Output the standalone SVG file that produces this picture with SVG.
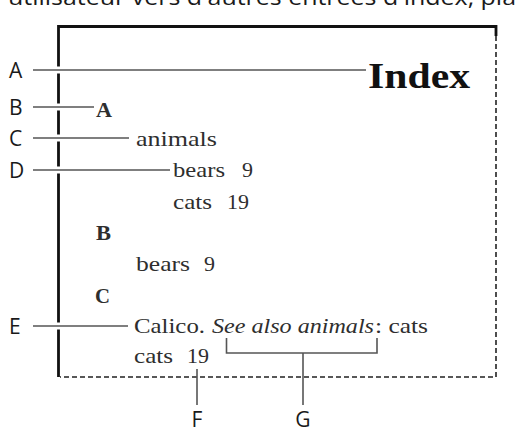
<svg xmlns="http://www.w3.org/2000/svg" width="531" height="433" viewBox="0 0 531 433">
<style>
.lbl{font-family:"Open Sans","Liberation Sans",sans-serif;font-size:21px;fill:#1a1a1a}
.ser{font-family:"Liberation Serif","Times New Roman",serif;font-size:22px;fill:#2e2e2e}
.hd{font-family:"Liberation Serif","Times New Roman",serif;font-weight:bold;fill:#111}
.ln{stroke:#555;stroke-width:1.6;fill:none}
.gap{stroke:#fff;stroke-width:7}
.dash{stroke:#222;stroke-width:1.6;stroke-dasharray:5 3;fill:none}
</style>
<rect width="531" height="433" fill="#fff"/>
<text class="lbl" x="8" y="5" font-size="22" textLength="508" lengthAdjust="spacingAndGlyphs">utilisateur vers d'autres entrées d'index, pla</text>
<g id="frame">
<path d="M58.5 377 V26.5 H496 V36" fill="none" stroke="#111" stroke-width="2.8"/>
<path class="dash" d="M496 36 V377 H60"/>
</g>
<g id="connectors">
<line class="gap" x1="54" y1="70" x2="63" y2="70"/>
<line class="gap" x1="54" y1="107" x2="63" y2="107"/>
<line class="gap" x1="54" y1="138" x2="63" y2="138"/>
<line class="gap" x1="54" y1="170" x2="63" y2="170"/>
<line class="gap" x1="54" y1="326" x2="63" y2="326"/>
<line class="ln" x1="33" y1="70" x2="366" y2="70"/>
<line class="ln" x1="33" y1="107" x2="94" y2="107"/>
<line class="ln" x1="33" y1="138" x2="129" y2="138"/>
<line class="ln" x1="33" y1="170" x2="170" y2="170"/>
<line class="ln" x1="33" y1="326" x2="128" y2="326"/>
<line class="ln" x1="197" y1="369" x2="197" y2="405"/>
<path class="ln" d="M226.5 338 V353 H377 V338"/>
<line class="ln" x1="303" y1="353" x2="303" y2="405"/>
</g>
<g id="labels">
<text class="lbl" x="9" y="78">A</text>
<text class="lbl" x="9" y="115">B</text>
<text class="lbl" x="9" y="146">C</text>
<text class="lbl" x="9" y="178">D</text>
<text class="lbl" x="9" y="334">E</text>
<text class="lbl" x="197" y="427" text-anchor="middle">F</text>
<text class="lbl" x="303" y="427" text-anchor="middle">G</text>
</g>
<g id="index-title"><text class="hd" x="368" y="88" font-size="36" textLength="102" lengthAdjust="spacingAndGlyphs">Index</text></g>
<g id="letter-a"><text class="ser" x="96" y="117" font-weight="bold" textLength="16" lengthAdjust="spacingAndGlyphs">A</text></g>
<g id="animals"><text class="ser" x="136" y="146" textLength="81" lengthAdjust="spacingAndGlyphs">animals</text></g>
<g id="bears-1"><text class="ser" x="173" y="177" textLength="52" lengthAdjust="spacingAndGlyphs">bears</text><text class="ser" x="242" y="177">9</text></g>
<g id="cats-1"><text class="ser" x="173" y="209" textLength="39" lengthAdjust="spacingAndGlyphs">cats</text><text class="ser" x="227" y="209" textLength="22" lengthAdjust="spacingAndGlyphs">19</text></g>
<g id="letter-b"><text class="ser" x="96" y="240" font-weight="bold" textLength="15" lengthAdjust="spacingAndGlyphs">B</text></g>
<g id="bears-2"><text class="ser" x="136" y="271" textLength="54" lengthAdjust="spacingAndGlyphs">bears</text><text class="ser" x="204" y="271">9</text></g>
<g id="letter-c"><text class="ser" x="95" y="303" font-weight="bold" textLength="15" lengthAdjust="spacingAndGlyphs">C</text></g>
<g id="calico"><text class="ser" x="134" y="333" textLength="71" lengthAdjust="spacingAndGlyphs">Calico.</text><text class="ser" x="212" y="333" font-style="italic" textLength="162" lengthAdjust="spacingAndGlyphs">See also animals</text><text class="ser" x="375" y="333" textLength="53" lengthAdjust="spacingAndGlyphs">: cats</text></g>
<g id="cats-2"><text class="ser" x="134" y="363" textLength="39" lengthAdjust="spacingAndGlyphs">cats</text><text class="ser" x="187" y="363" textLength="22" lengthAdjust="spacingAndGlyphs">19</text></g>
</svg>
